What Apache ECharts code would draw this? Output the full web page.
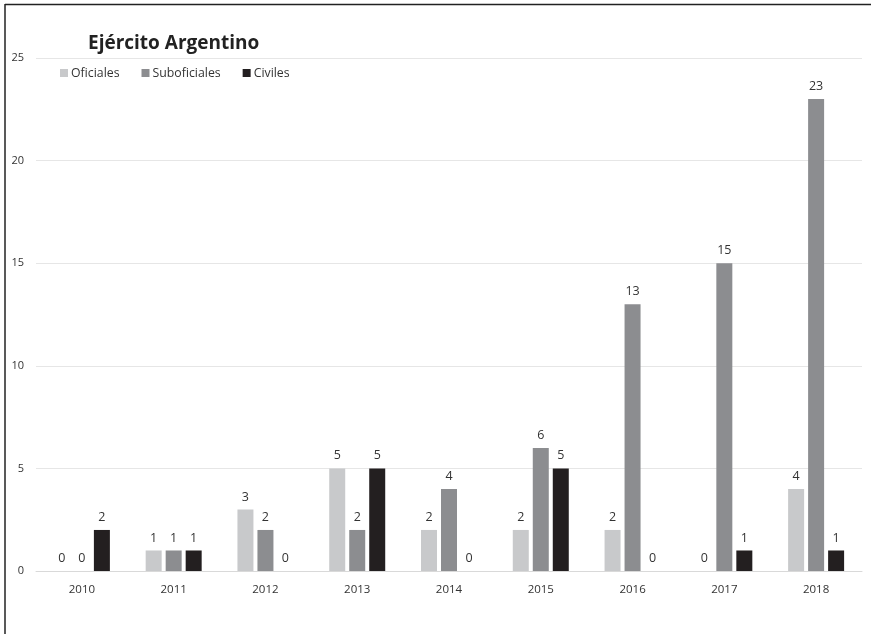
<!DOCTYPE html>
<html><head><meta charset="utf-8">
<script src="https://cdn.jsdelivr.net/npm/echarts@6/dist/echarts.min.js"></script>
<style>html,body{margin:0;padding:0;background:#fff}#c{width:871px;height:634px}</style>
</head><body><div id="c"></div>
<script>
var categories = ['2010','2011','2012','2013','2014','2015','2016','2017','2018'];
var oficiales = [0,1,3,5,2,2,2,0,4];
var suboficiales = [0,1,2,2,4,6,13,15,23];
var civiles = [2,1,0,5,0,5,0,1,1];
var seriesNames = ['Oficiales','Suboficiales','Civiles'];
var yTicks = {min:0, max:25, interval:5};

var font = '"Open Sans", "Noto Sans", sans-serif';
var colors = ['#c8c9cb','#8c8d90','#231f20'];
var chart = echarts.init(document.getElementById('c'));
function mk(name, data, i){
  return {name:name, type:'bar', data:data, barWidth:16, barGap:'25%',
    itemStyle:{color:colors[i]},
    label:{show:true, position:'top', distance:6, color:'#333', fontSize:12.5, fontFamily:font}};
}
chart.setOption({
  animation:false,
  title:{text:'Ejército Argentino', left:83, top:29,
    textStyle:{fontFamily:font, fontWeight:'bold', fontSize:19, color:'#222'}},
  legend:{left:55, top:62, itemWidth:8, itemHeight:8, itemGap:22, icon:'rect',
    textStyle:{fontFamily:font, fontSize:12.3, color:'#333', padding:[0,0,0,-2]}},
  grid:{left:36, right:9, top:58, bottom:63, containLabel:false},
  xAxis:{type:'category', data:categories,
    axisLine:{show:true, lineStyle:{color:'#d9d9d9'}}, axisTick:{show:false},
    axisLabel:{fontFamily:font, fontSize:11.5, color:'#333', margin:13}},
  yAxis:{type:'value', min:yTicks.min, max:yTicks.max, interval:yTicks.interval,
    axisLine:{show:false}, axisTick:{show:false},
    splitLine:{lineStyle:{color:'#e6e6e6'}},
    axisLabel:{fontFamily:font, fontSize:11, color:'#333', margin:12, align:'right'}},
  series:[mk(seriesNames[0],oficiales,0), mk(seriesNames[1],suboficiales,1), mk(seriesNames[2],civiles,2)],
  graphic:[
    {type:'line', shape:{x1:5,y1:4.5,x2:871,y2:4.5}, style:{stroke:'#222', lineWidth:1.5}},
    {type:'line', shape:{x1:5,y1:4,x2:5,y2:634}, style:{stroke:'#222', lineWidth:1.5}}
  ]
});
</script></body></html>
